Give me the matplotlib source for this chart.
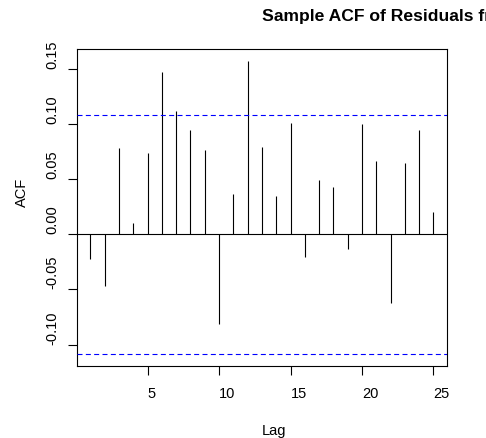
import matplotlib
matplotlib.use("Agg")
import matplotlib.pyplot as plt
from matplotlib.transforms import blended_transform_factory

plt.rcParams['font.family'] = ['Liberation Sans', 'DejaVu Sans']

# ---- data ----
lags = list(range(1, 26))
acf_values = [-0.0222, -0.0467, 0.0782, 0.0106, 0.0739, 0.1478, 0.1121, 0.0951,
              0.0763, -0.0818, 0.0363, 0.1575, 0.0797, 0.0348, 0.1009, -0.0206,
              0.0494, 0.0430, -0.0136, 0.1000, 0.0666, -0.0627, 0.0648, 0.0945,
              0.0203]
conf_limit = 0.1088
x_ticks = [5, 10, 15, 20, 25]
y_ticks = [-0.10, -0.05, 0.00, 0.05, 0.10, 0.15]
y_tick_labels = ["-0.10", "-0.05", "0.00", "0.05", "0.10", "0.15"]
title_text = "Sample ACF of Residuals from ARIMA Model"
x_label = "Lag"
y_label = "ACF"

W, H = 486, 438
fig = plt.figure(figsize=(W / 100, H / 100), dpi=100)

ax_left, ax_right, ax_top, ax_bottom = 76.7, 447.2, 49.3, 366.0
ax = fig.add_axes([ax_left / W, 1 - ax_bottom / H,
                   (ax_right - ax_left) / W, (ax_bottom - ax_top) / H])

ax.vlines(lags, 0, acf_values, colors='black', linewidth=0.8)
ax.axhline(0, color='black', linewidth=0.8)
for c in (conf_limit, -conf_limit):
    ax.axhline(c, color='#0000FF', linewidth=0.8, linestyle=(0, (4.5, 3)),
               zorder=3)

ax.set_xlim(0.04, 25.96)
ax.set_ylim(-0.1195, 0.168)

for s in ax.spines.values():
    s.set_linewidth(0.8)
    s.set_color('black')

ax.set_xticks(x_ticks)
ax.set_yticks(y_ticks)
ax.set_xticklabels([])
ax.set_yticklabels([])
ax.tick_params(direction='out', length=6.2, width=0.8, color='black')

fs = 10.5
# x tick labels: left-anchored at tick
tx = blended_transform_factory(ax.transData, fig.transFigure)
for v in x_ticks:
    ax.text(v, 1 - 398.3 / H, str(v), transform=tx, ha='left', va='baseline',
            fontsize=fs, clip_on=False)
# y tick labels: rotated, starting at tick
ty = blended_transform_factory(fig.transFigure, ax.transData)
for v, lab in zip(y_ticks, y_tick_labels):
    ax.text(52.5 / W, v, lab, transform=ty, rotation=90, ha='center',
            va='bottom', fontsize=fs, clip_on=False)

fig.text(262.5 / W, 1 - 21.5 / H, title_text, ha='left', va='baseline',
         fontsize=12.6, fontweight='bold')
fig.text(261.5 / W, 1 - 434.5 / H, x_label, ha='left', va='baseline', fontsize=fs)
fig.text(22.0 / W, 1 - 207.5 / H, y_label, rotation=90, ha='center', va='bottom',
         fontsize=fs)

fig.savefig("out.png", dpi=100)
